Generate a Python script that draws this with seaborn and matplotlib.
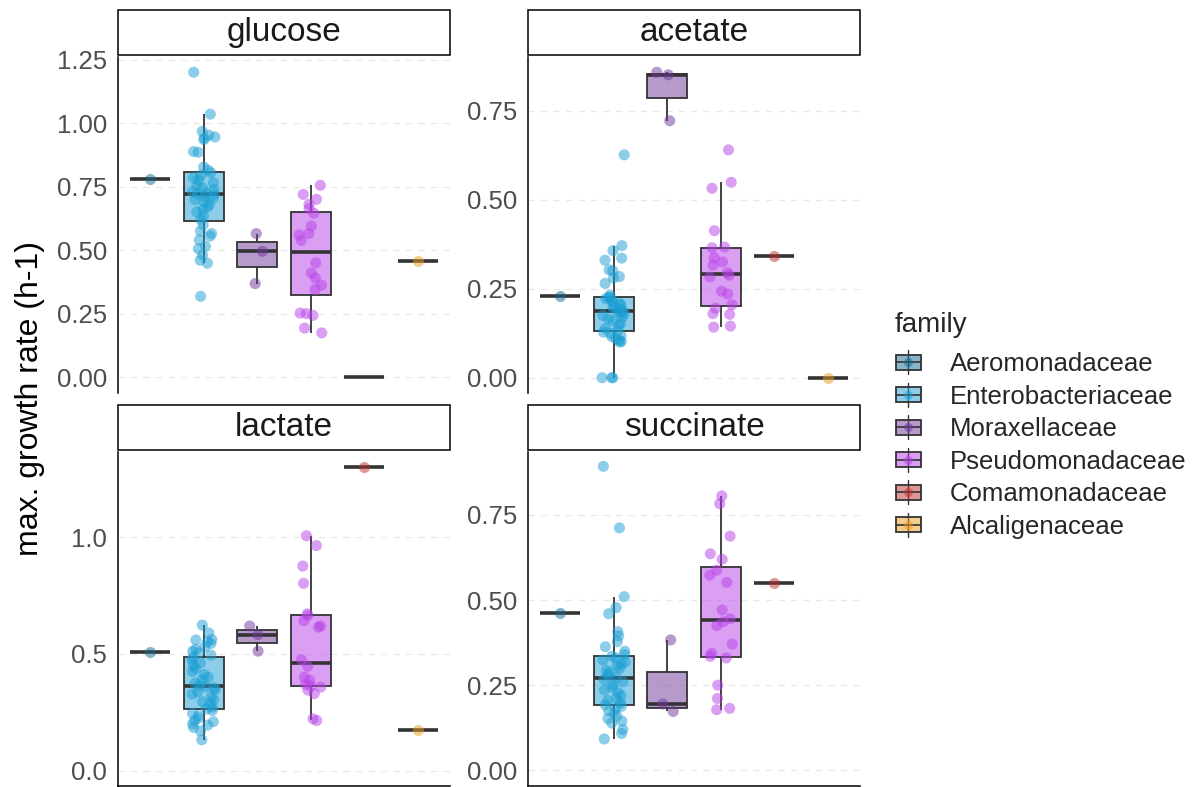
import numpy as np
import pandas as pd
import matplotlib
matplotlib.use("Agg")
import matplotlib.pyplot as plt
import matplotlib.colors as mcolors
from matplotlib.patches import Rectangle
from matplotlib.lines import Line2D
from matplotlib.legend_handler import HandlerBase
import seaborn as sns

# ---------------------------------------------------------------- data
families = ["Aeromonadaceae", "Enterobacteriaceae", "Moraxellaceae",
            "Pseudomonadaceae", "Comamonadaceae", "Alcaligenaceae"]
family_colors = ["#15698f", "#1a9fd4", "#6f379a", "#b741e9", "#c0302e", "#eb9a1c"]
substrates = ["glucose", "acetate", "lactate", "succinate"]

glucose = {
    "Aeromonadaceae": [0.78],
    "Enterobacteriaceae": [1.200, 1.035, 0.967, 0.952, 0.945, 0.940, 0.935, 0.888, 0.885, 0.827, 0.815,
                           0.805, 0.795, 0.785, 0.775, 0.765, 0.755, 0.745, 0.738, 0.730, 0.725, 0.720,
                           0.720, 0.712, 0.705, 0.698, 0.690, 0.680, 0.670, 0.660, 0.650, 0.635, 0.620,
                           0.600, 0.575, 0.565, 0.555, 0.540, 0.515, 0.505, 0.480, 0.460, 0.448, 0.318],
    "Moraxellaceae": [0.565, 0.495, 0.368],
    "Pseudomonadaceae": [0.755, 0.719, 0.700, 0.680, 0.663, 0.645, 0.595, 0.565, 0.560, 0.538,
                         0.450, 0.410, 0.390, 0.362, 0.345, 0.252, 0.250, 0.243, 0.193, 0.174],
    "Comamonadaceae": [0.0],
    "Alcaligenaceae": [0.457],
}
acetate = {
    "Aeromonadaceae": [0.230],
    "Enterobacteriaceae": [0.626, 0.371, 0.357, 0.336, 0.330, 0.303, 0.300, 0.284, 0.280, 0.265, 0.232,
                           0.226, 0.225, 0.222, 0.218, 0.213, 0.208, 0.204, 0.200, 0.196, 0.192, 0.188,
                           0.185, 0.183, 0.180, 0.175, 0.170, 0.165, 0.160, 0.152, 0.145, 0.138, 0.131,
                           0.128, 0.124, 0.118, 0.115, 0.110, 0.105, 0.102, 0.100, 0.0, 0.0, 0.0],
    "Moraxellaceae": [0.858, 0.851, 0.722],
    "Pseudomonadaceae": [0.640, 0.549, 0.532, 0.413, 0.367, 0.365, 0.337, 0.325, 0.316, 0.295,
                         0.288, 0.283, 0.243, 0.235, 0.205, 0.195, 0.180, 0.178, 0.145, 0.142],
    "Comamonadaceae": [0.342],
    "Alcaligenaceae": [0.0],
}
lactate = {
    "Aeromonadaceae": [0.510],
    "Enterobacteriaceae": [0.624, 0.590, 0.562, 0.560, 0.552, 0.545, 0.530, 0.520, 0.512, 0.505, 0.495,
                           0.487, 0.475, 0.462, 0.450, 0.438, 0.425, 0.412, 0.400, 0.388, 0.375, 0.366,
                           0.360, 0.355, 0.348, 0.338, 0.328, 0.318, 0.305, 0.295, 0.285, 0.272, 0.264,
                           0.258, 0.245, 0.235, 0.225, 0.215, 0.210, 0.200, 0.195, 0.185, 0.170, 0.132],
    "Moraxellaceae": [0.620, 0.583, 0.512],
    "Pseudomonadaceae": [1.007, 0.965, 0.877, 0.803, 0.672, 0.665, 0.643, 0.620, 0.615, 0.475,
                         0.448, 0.401, 0.387, 0.370, 0.362, 0.358, 0.345, 0.330, 0.222, 0.215],
    "Comamonadaceae": [1.300],
    "Alcaligenaceae": [0.175],
}
succinate = {
    "Aeromonadaceae": [0.463],
    "Enterobacteriaceae": [0.893, 0.712, 0.510, 0.478, 0.460, 0.407, 0.395, 0.378, 0.363, 0.350, 0.340,
                           0.335, 0.330, 0.324, 0.318, 0.312, 0.306, 0.300, 0.294, 0.287, 0.280, 0.273,
                           0.267, 0.260, 0.252, 0.244, 0.236, 0.228, 0.220, 0.212, 0.205, 0.198, 0.192,
                           0.188, 0.182, 0.175, 0.168, 0.160, 0.152, 0.145, 0.139, 0.120, 0.108, 0.092],
    "Moraxellaceae": [0.383, 0.195, 0.173],
    "Pseudomonadaceae": [0.806, 0.783, 0.688, 0.636, 0.620, 0.588, 0.573, 0.552, 0.471, 0.445,
                         0.436, 0.425, 0.371, 0.343, 0.335, 0.330, 0.250, 0.211, 0.182, 0.178],
    "Comamonadaceae": [0.549],
}

# the zero-rate glucose culture of Comamonadaceae is represented by its box only
box_only = [("glucose", "Comamonadaceae")]

y_limits = {"glucose": (-0.0625, 1.26), "acetate": (-0.043, 0.901),
            "lactate": (-0.066, 1.366), "succinate": (-0.046, 0.935)}
y_ticks = {"glucose": [0.0, 0.25, 0.5, 0.75, 1.0, 1.25],
           "acetate": [0.0, 0.25, 0.5, 0.75],
           "lactate": [0.0, 0.5, 1.0],
           "succinate": [0.0, 0.25, 0.5, 0.75]}
y_fmt = {"glucose": "{:.2f}", "acetate": "{:.2f}", "lactate": "{:.1f}", "succinate": "{:.2f}"}

rows = []
for sub, table in zip(substrates, [glucose, acetate, lactate, succinate]):
    for fam, vals in table.items():
        for v in vals:
            rows.append({"substrate": sub, "family": fam, "rate": v,
                         "point": (sub, fam) not in box_only})
df = pd.DataFrame(rows)

# ---------------------------------------------------------------- style
sns.set_theme(style="white")
plt.rcParams["font.family"] = ["Liberation Sans", "DejaVu Sans"]
palette = dict(zip(families, family_colors))
edge = "#333333"

W, H = 1197, 787
fig = plt.figure(figsize=(W / 100, H / 100), dpi=100)


def frac(x0, y0, x1, y1):
    return [x0 / W, 1 - y1 / H, (x1 - x0) / W, (y1 - y0) / H]


panel_px = {"glucose": (118, 57, 450, 393), "acetate": (528, 57, 860, 393),
            "lactate": (118, 452, 450, 786), "succinate": (528, 452, 860, 786)}

np.random.seed(7)
for sub in substrates:
    x0, y0, x1, y1 = panel_px[sub]
    ax = fig.add_axes(frac(x0, y0, x1, y1))
    ax.set_axisbelow(True)
    d = df[df["substrate"] == sub]

    sns.boxplot(data=d, x="family", y="rate", hue="family", order=families,
                hue_order=families, palette=palette, saturation=1, width=0.75,
                showfliers=False, showcaps=False, whis=1.5, linecolor=edge,
                linewidth=1.3, medianprops=dict(linewidth=2.6, color=edge),
                legend=False, ax=ax)
    for p in ax.patches:
        p.set_facecolor(mcolors.to_rgba(p.get_facecolor(), 0.5))

    sns.stripplot(data=d[d["point"]], x="family", y="rate", hue="family",
                  order=families, hue_order=families, palette=palette,
                  jitter=0.22, size=8, alpha=0.5, linewidth=0, legend=False,
                  ax=ax, zorder=3)

    ax.set_xlim(-0.6, 5.6)
    ax.set_ylim(*y_limits[sub])
    ax.set_yticks(y_ticks[sub])
    ax.set_yticklabels([y_fmt[sub].format(t) for t in y_ticks[sub]])
    ax.set_xlabel("")
    ax.set_ylabel("")
    ax.tick_params(axis="x", length=0, labelbottom=False)
    ax.tick_params(axis="y", length=4, width=1.1, color="black",
                   labelsize=18.5, labelcolor="#4d4d4d", pad=4)
    ax.yaxis.grid(True, linestyle=(0, (5, 5)), color="#e8e8e8", linewidth=0.9)
    ax.xaxis.grid(False)
    for side in ["top", "right"]:
        ax.spines[side].set_visible(False)
    ax.spines["left"].set_color("black")
    ax.spines["left"].set_linewidth(1.1)
    if sub in ("glucose", "acetate"):
        ax.spines["bottom"].set_visible(False)
    else:
        ax.spines["bottom"].set_color("black")
        ax.spines["bottom"].set_linewidth(1.1)

    # facet strip
    sy0, sy1 = y0 - 47, y0 - 2
    fig.add_artist(Rectangle((x0 / W, 1 - sy1 / H), (x1 - x0) / W, (sy1 - sy0) / H,
                             transform=fig.transFigure, facecolor="white",
                             edgecolor="black", linewidth=1.1))
    fig.text((x0 + x1) / 2 / W, 1 - (sy0 + sy1) / 2 / H, sub, ha="center",
             va="center", fontsize=24, color="#1a1a1a")

fig.text(30 / W, 1 - 398 / H, "max. growth rate (h-1)", rotation=90,
         ha="center", va="center", fontsize=23, color="black")


# ---------------------------------------------------------------- legend
class BoxKey(HandlerBase):
    def create_artists(self, legend, orig_handle, xdescent, ydescent,
                       width, height, fontsize, trans):
        c = orig_handle.get_color()
        cx = -xdescent + width / 2
        cy = -ydescent + height / 2
        bw, bh = width * 0.9, height * 0.64
        whisk = Line2D([cx, cx], [cy - height * 0.52, cy + height * 0.52],
                       color=edge, linewidth=1.0, transform=trans)
        box = Rectangle((cx - bw / 2, cy - bh / 2), bw, bh,
                        facecolor=mcolors.to_rgba(c, 0.5), edgecolor=edge,
                        linewidth=1.3, transform=trans)
        med = Line2D([cx - bw / 2, cx + bw / 2], [cy, cy], color=edge,
                     linewidth=1.2, transform=trans)
        dot = Line2D([cx], [cy], marker="o", markersize=6.5, color=c,
                     alpha=0.5, markeredgewidth=0, linestyle="none",
                     transform=trans)
        return [whisk, box, med, dot]


handles = [Line2D([], [], color=c) for c in family_colors]
leg = fig.legend(handles, families, loc="upper left",
                 bbox_to_anchor=(884 / W, 1 - 302 / H), frameon=False,
                 title="family", fontsize=18.5, title_fontsize=20,
                 handler_map={Line2D: BoxKey()}, handlelength=1.1,
                 handleheight=1.0, handletextpad=1.05, labelspacing=0.28,
                 alignment="left", borderaxespad=0)
leg._legend_box.sep = 9

fig.savefig("out.png", dpi=100)
